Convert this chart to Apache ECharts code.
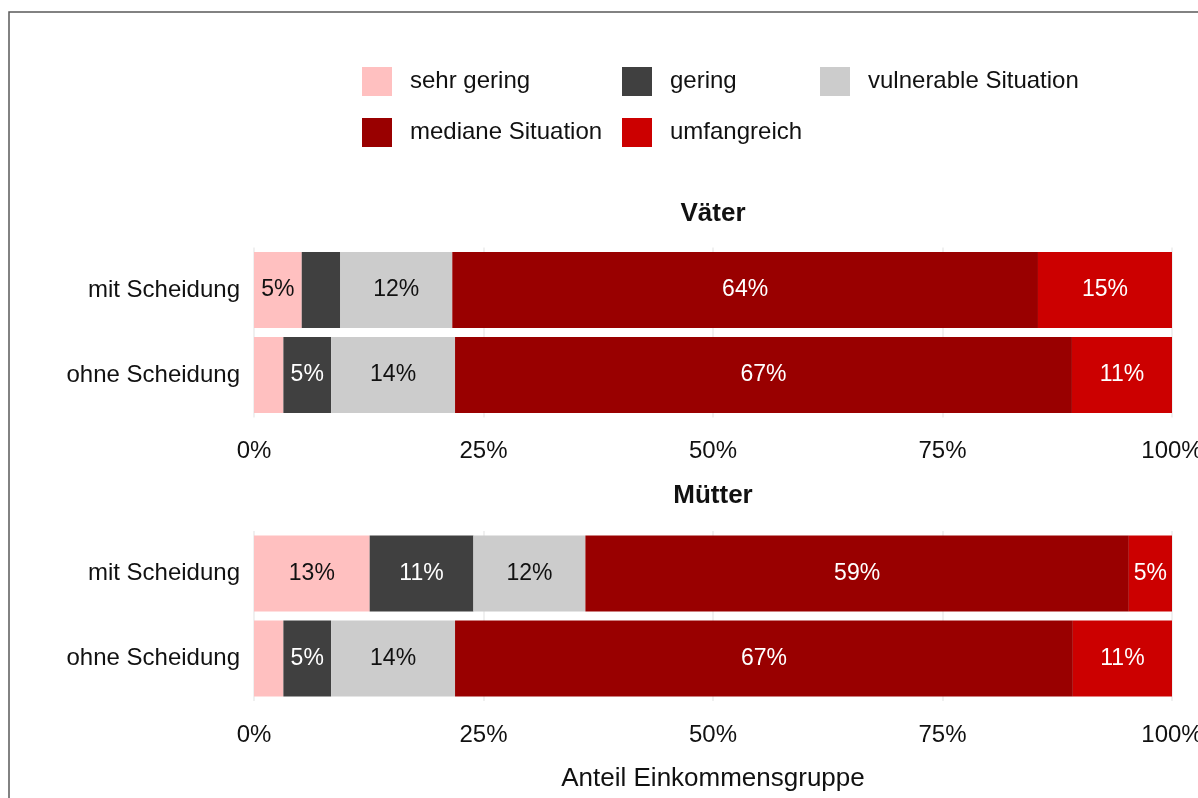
<!DOCTYPE html>
<html>
<head>
<meta charset="utf-8">
<script src="https://cdn.jsdelivr.net/npm/echarts@6/dist/echarts.min.js"></script>
<style>
html,body{margin:0;padding:0;background:#fff;}
#chart{width:1198px;height:798px;}
</style>
</head>
<body>
<div id="chart"></div>
<script>
// ---- data ----
const categories = ['mit Scheidung', 'ohne Scheidung'];
const levels = ['sehr gering', 'gering', 'vulnerable Situation', 'mediane Situation', 'umfangreich'];
const panels = ['Väter', 'Mütter'];
const vaeterMit = [5.2, 4.2, 12.2, 63.8, 14.6];
const vaeterOhne = [3.2, 5.2, 13.5, 67.2, 10.9];
const muetterMit = [12.6, 11.3, 12.2, 59.2, 4.7];
const muetterOhne = [3.2, 5.2, 13.5, 67.3, 10.8];
const xTicks = [0, 25, 50, 75, 100];
const xTitle = 'Anteil Einkommensgruppe';

// ---- styles ----
const colors = ['#FFC0C0', '#404040', '#CCCCCC', '#990000', '#CC0000'];
const labelColors = ['#111111', '#ffffff', '#111111', '#ffffff', '#ffffff'];
const FONT = '"Liberation Sans", Arial, sans-serif';
const TXT = '#111111';

const chart = echarts.init(document.getElementById('chart'), null, {renderer: 'canvas'});

const gridTops = [247.5, 531];
const grids = gridTops.map(t => ({left: 254, width: 918, top: t, height: 170, containLabel: false, outerBoundsMode: 'none'}));

const xAxes = gridTops.map((t, i) => ({
  type: 'value', gridIndex: i, min: xTicks[0], max: xTicks[xTicks.length - 1],
  interval: xTicks[1] - xTicks[0],
  axisLine: {show: false}, axisTick: {show: false},
  splitLine: {show: true, lineStyle: {color: '#EBEBEB', width: 1.5}},
  axisLabel: {formatter: '{value}%', fontSize: 24, color: TXT, fontFamily: FONT, margin: 22},
  name: i === 1 ? xTitle : '',
  nameLocation: 'middle', nameGap: 65,
  nameTextStyle: {fontSize: 26, color: TXT, fontFamily: FONT}
}));

const yAxes = gridTops.map((t, i) => ({
  type: 'category', gridIndex: i, data: categories, inverse: true,
  axisLine: {show: false}, axisTick: {show: false}, splitLine: {show: false},
  axisLabel: {fontSize: 24, color: TXT, fontFamily: FONT, margin: 14, padding: [6, 0, 0, 0]}
}));

const panelData = [[vaeterMit, vaeterOhne], [muetterMit, muetterOhne]];
const series = [];
panelData.forEach((pd, p) => {
  levels.forEach((lv, k) => {
    series.push({
      type: 'bar', name: lv, stack: 'p' + p, xAxisIndex: p, yAxisIndex: p,
      barWidth: 76,
      data: [pd[0][k], pd[1][k]],
      itemStyle: {color: colors[k]},
      label: {
        show: true, position: 'inside', fontSize: 23, fontFamily: FONT, color: labelColors[k],
        formatter: (pp) => pp.value >= 4.5 ? Math.round(pp.value) + '%' : ''
      },
      emphasis: {disabled: true}
    });
  });
});

const legendBase = {
  orient: 'vertical', top: 67, padding: 0, itemWidth: 30, itemHeight: 29, itemGap: 22,
  icon: 'rect', textStyle: {fontSize: 24, color: TXT, fontFamily: FONT, padding: [4, 0, 0, 13]}
};

chart.setOption({
  backgroundColor: '#ffffff',
  animation: false,
  grid: grids,
  xAxis: xAxes,
  yAxis: yAxes,
  legend: [
    Object.assign({}, legendBase, {left: 362, data: [levels[0], levels[3]]}),
    Object.assign({}, legendBase, {left: 622, data: [levels[1], levels[4]]}),
    Object.assign({}, legendBase, {left: 820, data: [levels[2]]})
  ],
  graphic: [
    {type: 'rect', silent: true, shape: {x: 9, y: 12, width: 1400, height: 1000},
     style: {fill: 'none', stroke: '#5a5a5a', lineWidth: 1.5}},
    {type: 'text', x: 713, y: 214, silent: true,
     style: {text: panels[0], fontSize: 26, fontWeight: 'bold', fill: TXT, fontFamily: FONT, textAlign: 'center', textVerticalAlign: 'middle'}},
    {type: 'text', x: 713, y: 496, silent: true,
     style: {text: panels[1], fontSize: 26, fontWeight: 'bold', fill: TXT, fontFamily: FONT, textAlign: 'center', textVerticalAlign: 'middle'}}
  ],
  series: series
});
</script>
</body>
</html>
